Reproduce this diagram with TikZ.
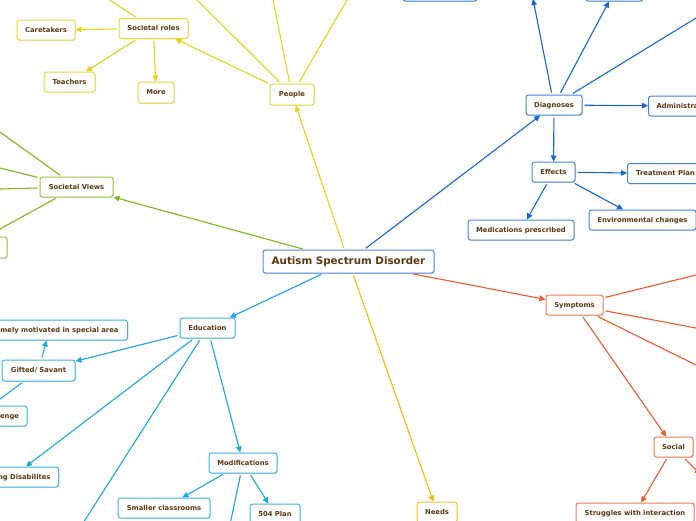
\documentclass[tikz,border=0pt]{standalone}
\usepackage{fontspec}
\setmainfont{DejaVu Sans}
\usetikzlibrary{arrows.meta,shadows}
\definecolor{txt}{RGB}{92,56,16}
\definecolor{cyel}{RGB}{232,210,20}
\definecolor{cblu}{RGB}{22,102,216}
\definecolor{cctr}{RGB}{45,115,215}
\definecolor{cgrn}{RGB}{128,184,22}
\definecolor{ccya}{RGB}{22,168,232}
\definecolor{camb}{RGB}{250,186,0}
\definecolor{cred}{RGB}{243,88,44}
\tikzset{
  mbox/.style={rectangle, rounded corners=2.5pt, draw, line width=1pt, fill=white,
    text=txt, font=\fontsize{6.8}{8}\selectfont\bfseries, inner sep=0pt,
    minimum height=20pt, text height=5pt, text depth=1pt,
    drop shadow={shadow xshift=0.8pt, shadow yshift=-0.9pt, opacity=0.22}},
  ybox/.style={mbox, draw=cyel!85!white},
  bbox/.style={mbox, draw=cblu!80!white},
  gbox/.style={mbox, draw=cgrn!80!white},
  cbox/.style={mbox, draw=ccya!85!white},
  abox/.style={mbox, draw=camb!85!white},
  rbox/.style={mbox, draw=cred!80!white},
  link/.style={line width=1.1pt, shorten <=2pt, -{Triangle[length=6pt,width=5.6pt]}},
}
\begin{document}
\begin{tikzpicture}[x=1pt,y=-1pt]
\useasboundingbox[fill=white] (0,0) rectangle (696,520);

% central
\node[mbox, draw=cctr!85!white, minimum width=171pt, minimum height=23pt,
  text height=7.5pt, text depth=1.5pt,
  font=\fontsize{10.3}{12}\selectfont\bfseries] (asd) at (348.5,261.5) {Autism Spectrum Disorder};

% People branch
\node[ybox, minimum width=44pt, minimum height=21pt] (people) at (292,94.5) {People};
\node[ybox, minimum width=69pt] (sroles) at (153.5,28.5) {Societal roles};
\node[ybox, minimum width=58pt] (care) at (46,30) {Caretakers};
\node[ybox, minimum width=51pt] (teach) at (69.5,82) {Teachers};
\node[ybox, minimum width=36pt, minimum height=21pt] (more) at (156,92.5) {More};
\coordinate (sr1) at (88,-14);
\coordinate (p1) at (168.5,-28.4);
\coordinate (p2) at (267.3,-28.4);
\coordinate (p3) at (363.5,-28.4);

% Diagnoses branch
\node[bbox, minimum width=56pt] (diag) at (554,105) {Diagnoses};
\node[bbox, minimum width=74pt] (top1) at (440,-9) {};
\node[bbox, minimum width=57pt] (top2) at (614.5,-9) {};
\node[bbox, inner xsep=8pt, anchor=west] (admin) at (648,106) {Administration};
\node[bbox, minimum width=43pt] (effects) at (553.5,172) {Effects};
\node[bbox, inner xsep=8.7pt, anchor=west] (treat) at (627,173.5) {Treatment Plan};
\node[bbox, minimum width=107pt] (env) at (642.5,220) {Environmental changes};
\node[bbox, minimum width=106pt] (meds) at (521,230) {Medications prescribed};
\coordinate (d1) at (533,-1);
\coordinate (d3) at (738.6,-8.1);

% Societal Views branch
\node[gbox, minimum width=73pt] (sviews) at (76.5,187) {Societal Views};
\node[gbox, minimum width=74pt, minimum height=21pt] (gleft) at (-30,247.5) {};
\coordinate (g1) at (-23,115.5);
\coordinate (g2) at (-23,162.3);
\coordinate (g3) at (-23,189.6);
\coordinate (g4) at (-23,241.6);

% Education branch
\node[cbox, minimum width=55pt] (edu) at (207.5,328) {Education};
\node[cbox, minimum width=73pt, minimum height=21pt] (gifted) at (38.5,370.5) {Gifted/ Savant};
\node[cbox, inner xsep=9pt, anchor=east] (motiv) at (128,330) {Extremely motivated in special area};
\node[cbox, minimum width=54pt] (chall) at (0,416) {Challenge};
\node[cbox, inner xsep=8pt, anchor=east] (learn) at (59,477) {Learning Disabilites};
\node[cbox, minimum width=68pt] (mods) at (243,463) {Modifications};
\node[cbox, minimum width=92pt] (small) at (164,508) {Smaller classrooms};
\node[cbox, minimum width=50pt] (plan) at (275,514) {504 Plan};
\coordinate (gf1) at (-11.6,407.6);
\coordinate (e1) at (72.75,539.2);
\coordinate (m1) at (227.4,537);

% Needs
\node[abox, minimum width=40pt] (needs) at (437,512) {Needs};

% Symptoms branch
\node[rbox, minimum width=57pt] (symp) at (574.5,305) {Symptoms};
\node[rbox, minimum width=39pt] (social) at (673.5,447) {Social};
\node[rbox, minimum width=118pt] (strug) at (635,513) {Struggles with interaction};
\coordinate (s1) at (720.3,269);
\coordinate (s2) at (720.3,332.6);
\coordinate (s3) at (720.3,377);
\coordinate (so1) at (700.5,474.6);

% connectors: People
\draw[link, cyel] (asd) -- (people);
\draw[link, cyel] (people) -- (sroles);
\draw[link, cyel] (people) -- (p1);
\draw[link, cyel] (people) -- (p2);
\draw[link, cyel] (people) -- (p3);
\draw[link, cyel] (sroles) -- (care);
\draw[link, cyel] (sroles) -- (teach);
\draw[link, cyel] (sroles) -- (more);
\draw[link, cyel] (sroles) -- (sr1);

% connectors: Diagnoses
\draw[link, cblu] (asd) -- (diag);
\draw[link, cblu] (diag) -- (d1);
\draw[link, cblu] (diag) -- (top2);
\draw[link, cblu] (diag) -- (d3);
\draw[link, cblu] (diag) -- (admin);
\draw[link, cblu] (diag) -- (effects);
\draw[link, cblu] (effects) -- (treat);
\draw[link, cblu] (effects) -- (env);
\draw[link, cblu] (effects) -- (meds);

% connectors: Societal Views
\draw[link, cgrn] (asd) -- (sviews);
\draw[link, cgrn] (sviews) -- (g1);
\draw[link, cgrn] (sviews) -- (g2);
\draw[link, cgrn] (sviews) -- (g3);
\draw[link, cgrn] (sviews) -- (g4);

% connectors: Education
\draw[link, ccya] (asd) -- (edu);
\draw[link, ccya] (edu) -- (gifted);
\draw[link, ccya] (gifted) -- (motiv);
\draw[link, ccya] (gifted) -- (gf1);
\draw[link, ccya] (edu) -- (learn);
\draw[link, ccya] (edu) -- (e1);
\draw[link, ccya] (edu) -- (mods);
\draw[link, ccya] (mods) -- (small);
\draw[link, ccya] (mods) -- (plan);
\draw[link, ccya] (mods) -- (m1);

% connectors: Needs
\draw[link, camb] (asd) -- (needs);

% connectors: Symptoms
\draw[link, cred] (asd) -- (symp);
\draw[link, cred] (symp) -- (s1);
\draw[link, cred] (symp) -- (s2);
\draw[link, cred] (symp) -- (s3);
\draw[link, cred] (symp) -- (social);
\draw[link, cred] (social) -- (strug);
\draw[link, cred] (social) -- (so1);
\end{tikzpicture}
\end{document}
